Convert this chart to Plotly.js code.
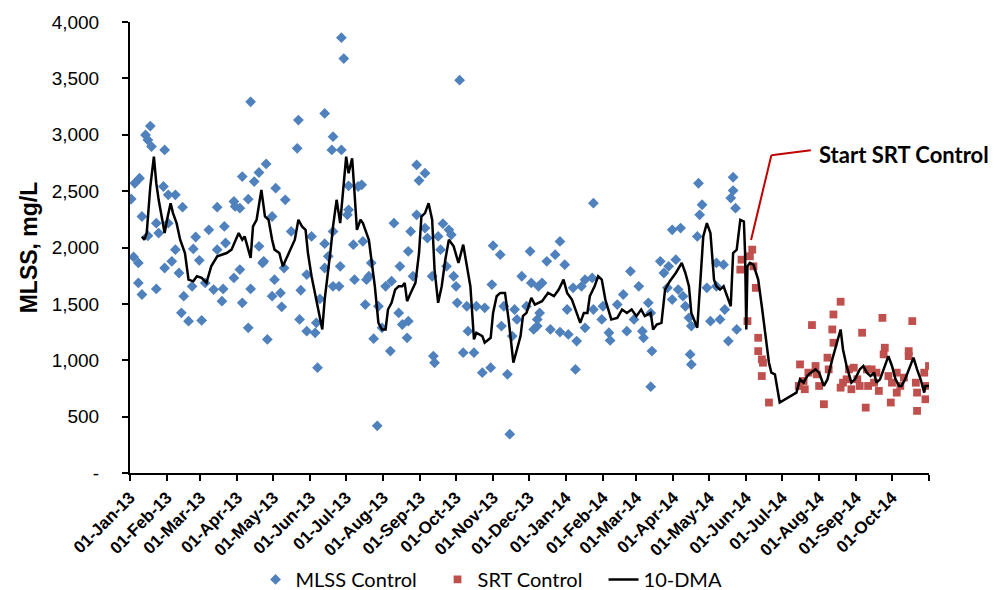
<!DOCTYPE html>
<html>
<head>
<meta charset="utf-8">
<script src="https://cdn.plot.ly/plotly-3.0.1.min.js"></script>
<style>html,body{margin:0;padding:0;background:#fff;}#chart{width:995px;height:590px;}</style>
</head>
<body>
<div id="chart"></div>
<script>
// Days counted from 01-Jan-13
var mlssDays = [1,4,8,10,3,7,7,10,13,17,15,18,29,15,22,22,24,28,32,38,44,32,29,35,38,41,45,43,49,60,53,55,52,58,66,63,70,73,79,78,77,73,80,87,88,92,87,94,99,101,104,108,114,92,94,99,101,108,111,112,119,122,130,115,119,121,126,127,129,135,141,140,143,142,148,152,148,155,157,163,163,163,156,159,166,170,169,170,170,
177,179,177,176,175,183,183,182,191,194,187,195,188,198,197,202,200,208,204,211,218,207,214,219,221,226,225,228,233,232,235,233,237,240,247,242,240,247,249,253,254,255,258,262,267,269,260,265,271,276,273,274,282,279,283,288,290,297,295,302,304,310,303,313,311,316,318,320,322,328,335,336,332,338,341,324,
342,343,341,349,356,360,364,345,352,360,367,374,373,366,371,378,381,387,388,381,388,395,396,401,402,408,413,419,422,416,426,429,430,434,436,437,436,444,447,451,454,461,457,450,454,459,463,465,468,470,469,470,476,479,477,475,483,491,497,491,486,494,498,501,505,505,503,507,508];
var mlssValues = [2430,2570,2614,2275,1916,1863,1686,1583,2998,3077,2953,2895,2865,2104,1633,2216,2128,2541,2467,2467,2358,2216,1818,1877,1981,1774,1568,1421,1347,1353,1987,2093,1656,1886,2157,1686,1627,2358,2187,1633,1524,1981,2040,2408,2364,2349,1730,2629,2429,3292,2585,2665,2741,1804,1509,1288,1633,2010,1863,1877,2275,2526,2423,1185,1568,1715,1597,1474,1818,2143,3130,2880,1621,1362,1258,2098,1760,1243,934,3189,2034,1818,1332,1544,1922,2983,2865,2143,1656,
3861,3676,2865,1833,1656,2547,2334,2290,2541,2556,2025,2054,1715,1715,1494,1863,1745,1479,1191,1288,1081,418,1656,1701,2216,1833,1420,1317,1347,1199,2143,1966,1745,2732,2659,2594,2290,2172,2084,1745,1037,978,2098,2211,2157,2113,1981,1833,1745,3484,1656,1509,1479,1067,1258,1067,1479,1465,890,934,2016,1936,1671,1479,1303,875,344,1214,1450,1745,1966,1686,1479,1273,1362,1362,
1656,1420,1303,1877,1936,2054,1848,1686,1273,1250,1229,1170,919,1450,1642,1656,1715,1730,2393,1288,1450,1362,1479,1244,1176,1494,1583,1789,1362,1258,1656,1258,1199,1509,1420,1081,766,1877,1774,1833,2157,2172,1892,1642,1538,1627,1568,1479,1376,1303,1052,963,2570,2379,2290,2098,1642,1863,1848,1656,1347,1362,1450,1170,2623,2505,2438,2349,1273];

var srtDays = [512,511,521,519,522,524,517,526,526,529,530,529,535,561,560,564,568,571,575,577,581,584,585,588,589,589,595,595,597,600,602,604,609,613,617,616,618,623,625,627,630,632,631,635,637,638,642,645,648,652,652,655,658,659,659,665,666,667,669,565,574,606,621,642,611];
var srtValues = [1892,1804,1981,1922,1833,1642,1347,1199,1081,1008,978,860,625,963,772,816,890,1312,875,772,610,1023,919,1273,1406,1155,1519,757,801,831,919,743,831,1244,919,580,772,801,890,728,1376,1111,1052,860,625,801,713,772,846,1081,1037,1347,801,713,551,890,654,772,949,743,949,934,919,890,772];

var dmaDays = [10,12,14,17,20,22,24,27,29,31,34,36,39,42,46,49,53,56,60,64,68,73,77,81,85,88,91,94,96,101,103,106,110,113,116,119,121,125,128,133,138,141,144,147,149,152,156,161,163,165,168,
170,173,176,179,181,183,186,188,190,193,195,200,202,205,208,211,214,216,219,222,225,228,230,232,235,239,242,244,247,250,253,255,258,261,264,267,271,275,279,282,285,288,290,295,297,302,304,307,310,314,317,321,324,327,329,332,336,339,
345,350,355,359,363,366,370,374,377,380,383,385,389,392,395,398,401,403,408,412,416,420,424,428,431,436,438,441,445,448,452,457,462,465,468,470,475,477,480,483,486,489,491,494,497,500,503,505,508,511,
514,515,516,517,519,522,526,529,532,535,537,540,544,551,558,561,564,567,570,574,577,581,584,588,592,595,597,600,604,607,611,614,617,620,623,625,628,632,635,638,641,644,646,649,653,656,659,662,665,666,669];
var dmaValues = [2098,2069,2128,2541,2806,2570,2423,2246,2128,2246,2393,2305,2216,2069,1951,1715,1700,1745,1730,1686,1833,1922,1936,1951,1981,2054,2128,2069,2098,1907,2187,2246,2511,2275,2246,2069,1981,1951,1833,1951,2069,2246,2187,2157,1951,1745,1538,1273,1538,1700,1981,
2187,2423,2216,2541,2806,2659,2791,2482,2157,2246,2216,2069,1892,1656,1332,1273,1273,1450,1509,1627,1656,1656,1686,1524,1597,1686,1951,2275,2305,2393,2246,1804,1509,1656,1892,2069,2010,1863,2025,1833,1656,1185,1244,1214,1155,1199,1420,1568,1597,1597,1362,978,1096,1214,1391,1420,1553,1494,
1524,1597,1568,1627,1715,1597,1538,1420,1332,1420,1420,1568,1656,1745,1715,1538,1420,1362,1376,1450,1420,1450,1391,1450,1391,1420,1273,1317,1332,1627,1701,1774,1863,1774,1656,1420,1288,1656,2098,2216,2128,1715,1656,1627,1656,1568,1479,1951,1981,2246,
2231,1951,1273,1833,1863,1848,1715,1479,1214,978,890,875,625,669,713,831,801,860,890,919,890,772,831,1008,1155,1273,1096,949,801,831,919,949,890,860,890,801,831,949,1037,949,831,772,772,831,949,1023,919,831,713,772,772];

var tickDates = ['2013-01-01','2013-02-01','2013-03-01','2013-04-01','2013-05-01','2013-06-01','2013-07-01','2013-08-01','2013-09-01','2013-10-01','2013-11-01','2013-12-01','2014-01-01','2014-02-01','2014-03-01','2014-04-01','2014-05-01','2014-06-01','2014-07-01','2014-08-01','2014-09-01','2014-10-01','2014-11-01'];
var tickLabels = ['01-Jan-13','01-Feb-13','01-Mar-13','01-Apr-13','01-May-13','01-Jun-13','01-Jul-13','01-Aug-13','01-Sep-13','01-Oct-13','01-Nov-13','01-Dec-13','01-Jan-14','01-Feb-14','01-Mar-14','01-Apr-14','01-May-14','01-Jun-14','01-Jul-14','01-Aug-14','01-Sep-14','01-Oct-14',''];
var yTickVals = [0,500,1000,1500,2000,2500,3000,3500,4000];
var yTickText = ['-','500','1,000','1,500','2,000','2,500','3,000','3,500','4,000'];

function toDate(d){ return new Date(Date.UTC(2013,0,1) + d*86400000).toISOString().slice(0,10); }

var traces = [
  {x: mlssDays.map(toDate), y: mlssValues, type:'scatter', mode:'markers', name:'MLSS Control', legendwidth:137,
   marker:{symbol:'diamond', size:8.3, color:'#4F81BD'}},
  {x: srtDays.map(toDate), y: srtValues, type:'scatter', mode:'markers', name:'SRT Control', legendwidth:121,
   marker:{symbol:'square', size:7.8, color:'#C0504D'}},
  {x: dmaDays.map(toDate), y: dmaValues, type:'scatter', mode:'lines', name:'10-DMA',
   line:{color:'#000000', width:2.5}}
];

var layout = {
  width:995, height:590,
  margin:{l:130, r:66, t:22, b:117, autoexpand:false},
  paper_bgcolor:'#fff', plot_bgcolor:'#fff',
  font:{family:'Liberation Sans, Arial, sans-serif', color:'#000'},
  showlegend:true,
  legend:{orientation:'h', x:0.494, xanchor:'center', xref:'container', y:0.018, yanchor:'middle', yref:'container',
          font:{family:'Lato, sans-serif', size:20, color:'#000'}, itemwidth:30, tracegroupgap:0},
  xaxis:{type:'date', range:['2013-01-01','2014-11-01'], tickvals:tickDates, ticktext:tickLabels,
         tickangle:-45, ticks:'outside', ticklen:6, tickwidth:2, tickcolor:'#000',
         showline:true, linecolor:'#000', linewidth:2, showgrid:false, zeroline:false, automargin:false,
         tickfont:{size:17, color:'#000', weight:'bold'}},
  yaxis:{range:[0,4000], tickvals:yTickVals, ticktext:yTickText, ticks:'outside', ticklen:6, tickwidth:2, tickcolor:'#000',
         showline:true, linecolor:'#000', linewidth:2, showgrid:false, zeroline:false, automargin:false,
         tickfont:{size:19, color:'#000'}, ticklabelstandoff:19,
         title:{text:'<b>MLSS, mg/L</b>', font:{size:23, color:'#000'}, standoff:8}},
  shapes:[
    {type:'line', xref:'x', yref:'y', x0:'2014-06-05', y0:2066, x1:'2014-06-22', y1:2819, line:{color:'#C00000', width:2}},
    {type:'line', xref:'x', yref:'y', x0:'2014-06-22', y0:2819, x1:'2014-07-25', y1:2863, line:{color:'#C00000', width:2}}
  ],
  annotations:[
    {x:'2014-07-30', y:2828, xref:'x', yref:'y', text:'<b>Start SRT Control</b>', showarrow:false, xanchor:'left', yanchor:'middle',
     font:{family:'Lato, sans-serif', size:22, color:'#000'}}
  ]
};

Plotly.newPlot('chart', traces, layout, {displayModeBar:false, staticPlot:true});
</script>
</body>
</html>
